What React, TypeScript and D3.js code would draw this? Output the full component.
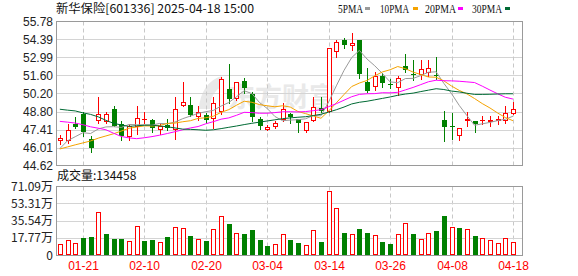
import React from "react";
import * as d3 from "d3";

// ---------- data ----------
const dates = [
  "01-16","01-17","01-20","01-21","01-22","01-23","01-24","01-27","02-05","02-06",
  "02-07","02-10","02-11","02-12","02-13","02-14","02-17","02-18","02-19","02-20",
  "02-21","02-24","02-25","02-26","02-27","02-28","03-03","03-04","03-05","03-06",
  "03-07","03-10","03-11","03-12","03-13","03-14","03-17","03-18","03-19","03-20",
  "03-21","03-24","03-25","03-26","03-27","03-28","03-31","04-01","04-02","04-03",
  "04-07","04-08","04-09","04-10","04-11","04-14","04-15","04-16","04-17","04-18",
];
const tickDates = ["01-21","02-10","02-20","03-04","03-14","03-26","04-08","04-18"];

const opens = [
  46.50,46.55,47.83,48.60,46.67,48.10,48.00,49.01,47.85,46.80,
  47.62,48.11,48.14,47.36,47.78,47.39,49.24,49.32,48.37,48.54,
  48.24,48.75,50.55,49.78,51.16,50.14,48.21,47.39,47.62,48.16,
  48.60,48.21,47.26,48.03,49.06,48.75,53.42,54.37,53.90,54.32,
  51.11,50.68,51.55,50.93,50.60,52.32,51.70,51.62,51.78,51.63,
  48.14,47.68,46.92,48.10,48.06,48.08,47.99,48.10,48.08,48.60,
];
const highs = [
  46.98,47.85,48.37,48.75,46.90,49.95,48.73,49.24,48.08,47.83,
  49.26,48.78,48.26,47.91,48.24,49.91,51.08,49.91,49.21,48.67,
  49.91,51.49,52.52,51.10,51.37,50.34,48.41,47.78,48.03,49.49,
  48.68,48.21,48.00,49.91,49.91,53.75,54.32,54.53,54.88,54.32,
  52.14,51.88,51.80,51.29,51.55,53.30,52.78,52.83,52.78,53.03,
  48.84,48.70,47.55,48.75,48.10,48.42,48.47,48.42,49.24,49.57,
];
const lows = [
  46.31,46.37,47.52,46.88,45.64,47.92,47.90,47.65,46.57,46.62,
  47.08,47.91,47.18,47.03,47.34,46.70,49.20,48.45,48.11,47.88,
  47.50,48.60,49.45,49.70,50.21,48.10,47.47,47.35,47.52,48.03,
  47.91,47.21,47.21,48.03,48.80,48.75,53.03,53.73,53.60,51.40,
  50.34,50.47,50.68,50.60,50.10,51.88,51.24,51.30,51.55,51.30,
  46.55,46.65,46.60,47.65,47.18,47.84,47.65,47.80,47.90,48.60,
];
const closes = [
  46.78,47.37,47.62,47.21,45.98,48.62,48.60,47.72,46.93,47.67,
  48.29,48.24,47.49,47.70,47.52,48.98,49.55,48.52,48.75,48.16,
  49.45,51.29,49.80,51.06,50.64,48.40,47.72,47.64,47.93,48.98,
  48.41,47.91,47.98,49.19,48.86,53.75,54.17,53.99,54.10,51.68,
  50.42,51.55,50.98,50.85,51.42,52.00,51.60,52.10,52.15,51.55,
  47.57,47.60,47.52,48.20,47.80,48.14,48.14,48.20,48.72,48.98,
];
const prevCloseBefore = 46.30;

// volume in 万 (10k lots)
const volumes = [
  11.0,15.1,12.1,17.5,18.5,44.3,21.6,16.5,16.5,14.4,
  29.6,14.4,15.5,13.1,18.5,28.5,27.5,19.6,16.5,14.4,
  26.5,39.9,31.9,22.4,21.6,25.8,15.5,9.3,11.0,21.3,
  15.5,12.4,10.3,25.8,13.4,65.9,48.1,22.7,21.3,26.8,
  22.7,20.3,13.4,11.3,21.3,32.7,21.6,16.2,22.4,24.7,
  40.2,28.5,27.8,26.8,19.6,17.5,15.5,12.4,17.5,13.4458,
];
const latestVolume = 134458;

const ma5 = [
  45.93,46.54,46.85,47.16,47.10,47.45,47.61,47.63,47.57,47.80,
  47.78,47.77,47.75,47.88,47.85,47.99,48.25,48.45,48.66,48.79,
  48.89,49.23,49.50,49.95,50.41,50.20,49.50,49.04,48.42,48.09,
  48.14,48.17,48.24,48.49,48.47,49.54,50.79,51.99,52.98,53.54,
  52.87,52.35,51.75,51.10,51.04,51.36,51.37,51.59,51.85,51.88,
  50.99,50.19,49.28,48.49,47.74,47.85,47.96,48.10,48.20,48.44,
];
const ma10 = [
  45.90,46.06,46.22,46.37,46.52,46.74,46.91,47.08,47.29,47.51,
  47.60,47.69,47.68,47.72,47.88,47.91,48.01,48.09,48.27,48.32,
  48.44,48.74,48.95,49.29,49.60,49.52,49.34,49.25,49.17,49.25,
  49.15,48.81,48.64,48.46,48.28,48.84,49.48,50.12,50.74,51.01,
  51.21,51.57,51.87,52.04,52.29,52.12,51.86,51.67,51.48,51.46,
  51.18,50.78,50.44,50.17,49.81,49.42,49.08,48.69,48.34,48.09,
];
const ma20 = [
  48.04,47.98,47.91,47.78,47.62,47.51,47.39,47.12,46.87,46.76,
  46.70,46.77,46.86,46.97,47.10,47.24,47.39,47.53,47.64,47.85,
  48.02,48.21,48.31,48.51,48.74,48.72,48.67,48.67,48.72,48.78,
  48.79,48.77,48.80,48.87,48.94,49.18,49.41,49.68,49.95,50.13,
  50.18,50.19,50.26,50.25,50.29,50.48,50.67,50.89,51.11,51.23,
  51.19,51.18,51.15,51.10,51.05,50.77,50.47,50.18,49.91,49.77,
];
const ma30 = [
  48.98,48.91,48.85,48.70,48.58,48.39,48.12,47.89,47.76,47.65,
  47.70,47.74,47.75,47.68,47.62,47.53,47.44,47.42,47.39,47.35,
  47.39,47.48,47.58,47.68,47.79,47.89,47.98,48.07,48.16,48.25,
  48.31,48.36,48.40,48.49,48.59,48.76,48.94,49.15,49.39,49.52,
  49.60,49.71,49.82,49.93,50.06,50.16,50.23,50.35,50.46,50.57,
  50.51,50.39,50.32,50.22,50.13,50.13,50.14,50.16,50.18,50.18,
];

const priceTicks = [44.62, 46.01, 47.41, 48.80, 50.20, 51.60, 52.99, 54.39, 55.78];
const volTicks = [0, 17.77, 35.54, 53.31, 71.09];

const maSeries = [
  { name: "5PMA", values: ma5, color: "#9a9a9a" },
  { name: "10PMA", values: ma10, color: "#f5a300" },
  { name: "20PMA", values: ma20, color: "#ff00ff" },
  { name: "30PMA", values: ma30, color: "#006a34" },
];

const title = "新华保险[601336] 2025-04-18 15:00";
const watermark = "东方财富";

// ---------- styling / layout ----------
const W = 578, H = 276;
const L = 56, R = 522;
const mainTop = 21.5, mainBot = 165.5;
const volTop = 186, volBot = 255;
const RED = "#ff0000", GREEN = "#008000";
const GRID = "#d4d4d4", FRAME = "#9a9a9a";
const SANS = "'Liberation Sans', Arial, sans-serif";
const CJK = "'Noto Sans CJK SC', 'Liberation Sans', sans-serif";

export default function App() {
  const x = d3.scaleBand<string>().domain(dates).range([L, L + 7.68 * dates.length]).padding(0);
  const bw = x.bandwidth();
  const cx = (d: string) => Math.round((x(d) as number) + bw / 2);
  const yP = d3.scaleLinear().domain([44.62, 55.78]).range([mainBot, mainTop]);
  const yV = d3.scaleLinear().domain([0, 71.09]).range([volBot, volTop]);

  const line = d3
    .line<number>()
    .x((_, i) => (x(dates[i]) as number) + bw / 2)
    .y((v) => yP(v));

  const legendX = [338, 380, 425, 472];
  const legendW = [25, 29, 31, 30];
  const swatchX = [365, 413, 458, 505];

  return (
    <svg
      width={W}
      height={H}
      style={{ position: "absolute", left: 0, top: 0, background: "#fff" }}
    >
      <rect x={0} y={0} width={W} height={H} fill="#fff" />
      {/* title */}
      <text x={56} y={13} fontFamily={CJK} fontSize={12} fill="#111" textLength={198} lengthAdjust="spacingAndGlyphs">
        {title}
      </text>
      {/* legend */}
      {maSeries.map((s, i) => (
        <g key={s.name}>
          <text x={legendX[i]} y={13} fontFamily={"'Liberation Serif', serif"} fontSize={12} fill="#111" textLength={legendW[i]} lengthAdjust="spacingAndGlyphs">
            {s.name}
          </text>
          <rect x={swatchX[i]} y={7} width={5} height={3} fill={s.color} />
        </g>
      ))}

      {/* watermark */}
      <g fill="#e9e9e9">
        <path d="M199,109 C200,92 208,80 222,76 L223,86 C214,90 210,98 210,109 Z" />
        <text x={228} y={107} fontFamily={CJK} fontSize={27} fontWeight={700} letterSpacing={0}>
          {watermark}
        </text>
      </g>

      {/* main grid */}
      {priceTicks.slice(1, -1).map((t) => (
        <line key={t} x1={L} x2={R} y1={Math.round(yP(t)) + 0.5} y2={Math.round(yP(t)) + 0.5} stroke={GRID} />
      ))}
      {tickDates.map((d) => (
        <g key={d}>
          <line x1={cx(d) + 0.5} x2={cx(d) + 0.5} y1={mainTop} y2={mainBot} stroke="#c8c8c8" strokeDasharray="4,3" />
          <line x1={cx(d) + 0.5} x2={cx(d) + 0.5} y1={volTop + 0.5} y2={volBot} stroke="#c8c8c8" strokeDasharray="4,3" />
        </g>
      ))}
      {volTicks.slice(1, -1).map((t) => (
        <line key={t} x1={L} x2={R} y1={Math.round(yV(t)) + 0.5} y2={Math.round(yV(t)) + 0.5} stroke={GRID} />
      ))}

      {/* candles */}
      {dates.map((d, i) => {
        const o = opens[i], c = closes[i];
        const up = c >= o;
        const col = up ? RED : GREEN;
        const X = cx(d);
        const top = Math.round(Math.min(yP(o), yP(c)));
        const bot = Math.round(Math.max(yP(o), yP(c)));
        const hi = Math.round(yP(highs[i]));
        const lo = Math.round(yP(lows[i]));
        let body;
        if (bot - top < 2) {
          body = <line x1={X - 2} x2={X + 3} y1={top + 0.5} y2={top + 0.5} stroke={col} />;
        } else if (up) {
          body = <rect x={X - 1.5} y={top + 0.5} width={4} height={bot - top - 1} fill="#fff" stroke={col} />;
        } else {
          body = <rect x={X - 2} y={top} width={5} height={bot - top} fill={col} />;
        }
        return (
          <g key={d}>
            <line x1={X + 0.5} x2={X + 0.5} y1={hi} y2={lo + 1} stroke={col} />
            {body}
          </g>
        );
      })}

      {/* moving averages */}
      {maSeries.map((s) => (
        <path key={s.name} d={line(s.values) || ""} fill="none" stroke={s.color} strokeWidth={1} />
      ))}

      {/* volume bars */}
      {dates.map((d, i) => {
        const prev = i === 0 ? prevCloseBefore : closes[i - 1];
        const up = closes[i] >= prev;
        const X = cx(d);
        const top = Math.round(yV(volumes[i]));
        return up ? (
          <rect key={d} x={X - 1.5} y={top + 0.5} width={4} height={volBot - top - 1} fill="#fff" stroke={RED} />
        ) : (
          <rect key={d} x={X - 2} y={top} width={5} height={volBot - top} fill={GREEN} />
        );
      })}

      {/* frames */}
      <rect x={L + 0.5} y={mainTop} width={R - L} height={mainBot - mainTop} fill="none" stroke={FRAME} />
      <rect x={L + 0.5} y={volTop + 0.5} width={R - L} height={volBot - volTop} fill="none" stroke={FRAME} />

      {/* price axis labels */}
      {priceTicks.map((t) => (
        <text key={t} x={53} y={yP(t) + 4.5} textAnchor="end" fontFamily={SANS} fontSize={12} fill="#222">
          {t.toFixed(2)}
        </text>
      ))}

      {/* volume title */}
      <text x={57} y={180} fontFamily={CJK} fontSize={12} fill="#111">
        {`成交量:${latestVolume}`}
      </text>

      {/* volume axis labels */}
      {volTicks.map((t) => (
        <text key={t} x={53} y={yV(t) + 4.5} textAnchor="end" fontFamily={CJK} fontSize={12} fill="#222">
          {t === 0 ? "0" : `${t.toFixed(2)}万`}
        </text>
      ))}

      {/* date labels */}
      {tickDates.map((d) => (
        <text key={d} x={cx(d) + 0.5} y={270} textAnchor="middle" fontFamily={SANS} fontSize={12} fill={RED}>
          {d}
        </text>
      ))}
    </svg>
  );
}
